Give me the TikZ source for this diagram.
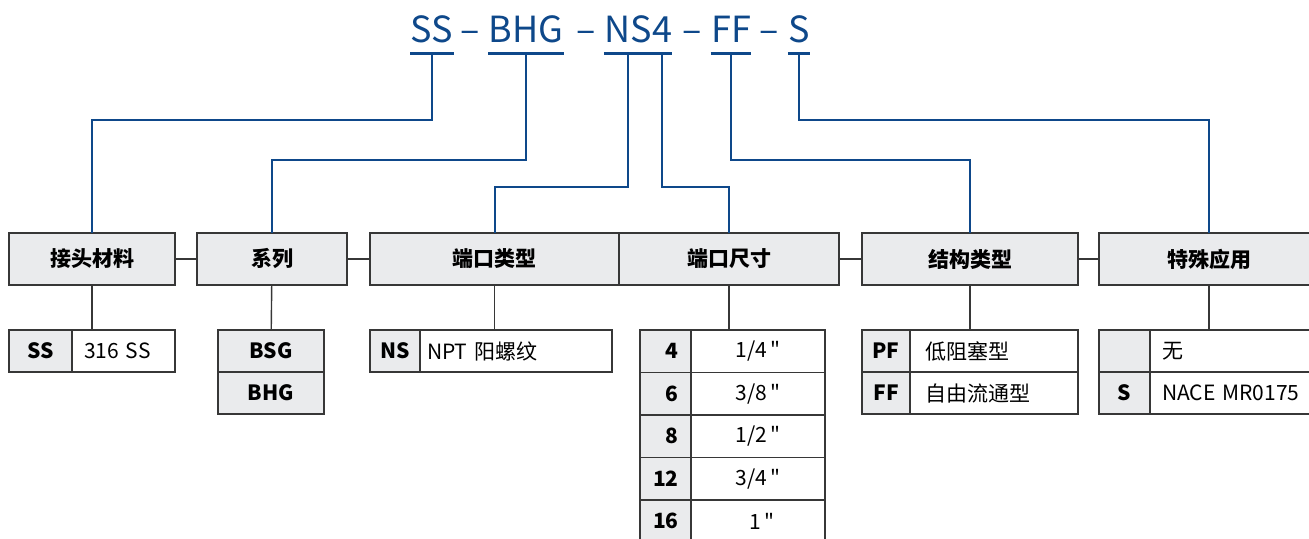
\documentclass[tikz,border=0pt]{standalone}
\usepackage{fontspec}
\setmainfont{Noto Sans CJK SC}
\newfontfamily\rawfont{Noto Sans CJK SC}
\usetikzlibrary{positioning}
\definecolor{codeblue}{RGB}{14,72,138}
\definecolor{cellgray}{RGB}{234,235,237}
\definecolor{edgegray}{RGB}{55,55,55}
\newcommand{\inch}{\,{\rawfont\char"22}}
\tikzset{
  title/.style={anchor=base, inner sep=0pt, text=codeblue, font=\fontsize{18}{22}\selectfont},
  bar/.style={codeblue, line width=1.3pt},
  wire/.style={codeblue, line width=1pt},
  link/.style={edgegray, line width=0.7pt},
  head/.style={draw=edgegray, line width=0.8pt, fill=cellgray, outer sep=0pt, inner sep=0pt,
    minimum height=26pt, minimum width=#1, font=\bfseries\fontsize{10.5}{12}\selectfont},
  code/.style={draw=edgegray, line width=0.7pt, fill=cellgray, outer sep=0pt, inner sep=0pt,
    minimum height=21pt, minimum width=#1, font=\bfseries\fontsize{10.5}{12}\selectfont},
  val/.style={draw=edgegray, line width=0.7pt, fill=white, outer sep=0pt, inner ysep=0pt, inner xsep=6pt,
    minimum height=21pt, text width=\dimexpr#1-12pt\relax, align=left, font=\fontsize{10.5}{12}\selectfont},
  cval/.style={val=#1, align=center},
  rcode/.style={code=#1, inner xsep=6.5pt, text width=\dimexpr#1-13pt\relax, align=right}
}
\begin{document}
\begin{tikzpicture}[x=0.5pt, y=-0.5pt]
  \useasboundingbox (0,0) rectangle (1309,538);
  \clip (0,0) rectangle (1309,538);

  \node[title] (tSS) at (432,42) {SS};
  \node[title] (d1) at (470,42) {–};
  \node[title] (tBHG) at (526,42) {BHG};
  \node[title] (d2) at (586,42) {–};
  \node[title] (tNS) at (628,42) {NS};
  \node[title] (t4) at (662,42) {4};
  \node[title] (d3) at (692,42) {–};
  \node[title] (tFF) at (731,42) {FF};
  \node[title] (d4) at (769,42) {–};
  \node[title] (tS) at (799,42) {S};
  \foreach \t in {tSS,tBHG,tNS,t4,tFF,tS}
    \draw[bar] ([yshift=-5.8pt]\t.base west) -- ([yshift=-5.8pt]\t.base east);

  \node[head=83pt, anchor=north west] (mat) at (9,233) {接头材料};
  \node[head=75pt, right=11pt of mat] (ser) {系列};
  \node[head=124.5pt, right=11.5pt of ser] (ptype) {端口类型};
  \node[head=110pt, right=0pt of ptype] (psize) {端口尺寸};
  \node[head=108pt, right=11.5pt of psize] (struct) {结构类型};
  \node[head=110pt, right=10.5pt of struct] (spec) {特殊应用};
  \foreach \a/\b in {mat/ser, ser/ptype, psize/struct, struct/spec}
    \draw[link] (\a) -- (\b);

  \draw[wire] ([yshift=-5.8pt]tSS.base) -- (tSS.base |- 0,120) -| (mat.north);
  \draw[wire] ([yshift=-5.8pt]tBHG.base) -- (tBHG.base |- 0,160) -| (ser.north);
  \draw[wire] ([yshift=-5.8pt]tNS.base) -- (tNS.base |- 0,187) -| (ptype.north);
  \draw[wire] ([yshift=-5.8pt]t4.base) -- (t4.base |- 0,187) -| (psize.north);
  \draw[wire] ([yshift=-5.8pt]tFF.base) -- (tFF.base |- 0,160) -| (struct.north);
  \draw[wire] ([yshift=-5.8pt]tS.base) -- (tS.base |- 0,120) -| (spec.north);

  \node[code=31.5pt, anchor=north west] (ssc) at (9,330) {SS};
  \node[val=51.5pt, right=0pt of ssc] (ssv) {316 SS};

  \node[code=53pt, anchor=north west] (bsg) at (218,330) {BSG};
  \node[code=53pt, below=0pt of bsg] (bhg) {BHG};

  \node[code=25pt, anchor=north west] (nsc) at (370,330) {NS};
  \node[val=96pt, right=0pt of nsc, inner xsep=3.5pt, text width=89pt] (nsv) {NPT 阳螺纹};

  \node[rcode=25.5pt, anchor=north west, minimum height=21.25pt] (s4) at (640,330) {4};
  \node[rcode=25.5pt, below=0pt of s4, minimum height=21.25pt] (s6) {6};
  \node[rcode=25.5pt, below=0pt of s6, minimum height=21.25pt] (s8) {8};
  \node[rcode=25.5pt, below=0pt of s8, minimum height=21.25pt] (s12) {12};
  \node[rcode=25.5pt, below=0pt of s12, minimum height=21.25pt] (s16) {16};
  \node[cval=67pt, right=0pt of s4, minimum height=21.25pt] (v4) {1/4\inch};
  \node[cval=67pt, right=0pt of s6, minimum height=21.25pt] (v6) {3/8\inch};
  \node[cval=67pt, right=0pt of s8, minimum height=21.25pt] (v8) {1/2\inch};
  \node[cval=67pt, right=0pt of s12, minimum height=21.25pt] (v12) {3/4\inch};
  \node[cval=67pt, right=0pt of s16, minimum height=21.25pt] (v16) {\hspace{4pt}1\inch};

  \node[code=24pt, anchor=north west] (pfc) at (862,330) {PF};
  \node[code=24pt, below=0pt of pfc] (ffc) {FF};
  \node[val=84pt, right=0pt of pfc, inner xsep=7.5pt, text width=69pt] (pfv) {低阻塞型};
  \node[val=84pt, right=0pt of ffc, inner xsep=7.5pt, text width=69pt] (ffv) {自由流通型};

  \node[code=25.5pt, anchor=north west] (nonec) at (1099,330) {};
  \node[code=25.5pt, below=0pt of nonec] (sc) {S};
  \node[val=90pt, right=0pt of nonec] (nonev) {无};
  \node[val=90pt, right=0pt of sc] (sv) {NACE MR0175};

  \draw[link] (mat) -- (mat |- ssv.north);
  \draw[link] (ser) -- (bsg);
  \draw[link] (ptype) -- (ptype |- nsv.north);
  \draw[link] (psize) -- (psize |- v4.north);
  \draw[link] (struct) -- (struct |- pfv.north);
  \draw[link] (spec) -- (spec |- nonev.north);
\end{tikzpicture}
\end{document}
